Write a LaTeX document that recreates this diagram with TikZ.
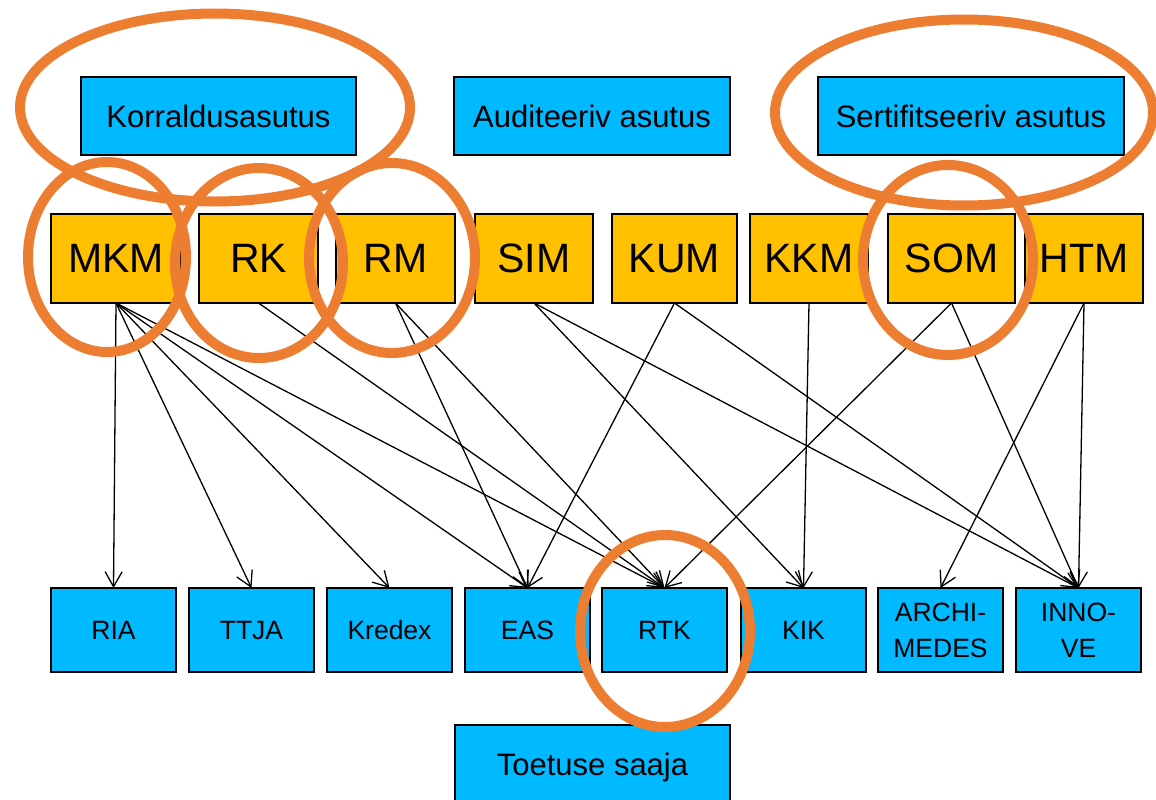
\documentclass[tikz,border=0pt]{standalone}
\usepackage{fontspec}
\setmainfont{Liberation Sans}
\usetikzlibrary{arrows.meta}
\definecolor{boxblue}{RGB}{0,185,255}
\definecolor{boxorange}{RGB}{255,192,0}
\definecolor{ringorange}{RGB}{237,125,49}
\tikzset{
  basebox/.style={draw=black, line width=1.3pt, inner sep=0pt, outer sep=0pt, align=center},
  topbox/.style={basebox, fill=boxblue, minimum height=78pt, font=\fontsize{31}{37}\selectfont},
  minbox/.style={basebox, fill=boxorange, minimum height=89pt, font=\fontsize{41}{48}\selectfont},
  agbox/.style={basebox, fill=boxblue, minimum width=125pt, minimum height=84pt, font=\fontsize{26.5}{36}\selectfont},
  flat/.style={text depth=0pt},
  link/.style={draw=black, line width=1.3pt, -{Straight Barb[length=15pt,width=17pt,line width=1.3pt]}},
  ring/.style={draw=ringorange, line width=10pt}
}
\begin{document}
\begin{tikzpicture}[x=1pt,y=-1pt]
\useasboundingbox (0,0) rectangle (1156,800);
\clip (0,0) rectangle (1156,800);

% top row
\node[topbox, minimum width=275pt] (korr) at (218.5,116) {Korraldusasutus};
\node[topbox, minimum width=276pt] (audit) at (592,116) {Auditeeriv asutus};
\node[topbox, minimum width=306pt] (sert) at (971,116) {Sertifitseeriv asutus};

% ministries
\node[minbox, minimum width=130pt] (mkm) at (116,258.5) {MKM};
\node[minbox, minimum width=119pt] (rk) at (258.5,258.5) {RK};
\node[minbox, minimum width=119pt] (rm) at (395.5,258.5) {RM};
\node[minbox, minimum width=118pt] (sim) at (534,258.5) {SIM};
\node[minbox, minimum width=125pt] (kum) at (674.5,258.5) {KUM};
\node[minbox, minimum width=118pt] (kkm) at (809,258.5) {KKM};
\node[minbox, minimum width=127pt] (som) at (951.5,258.5) {SOM};
\node[minbox, minimum width=118pt] (htm) at (1084,258.5) {HTM};

% agencies
\node[agbox, flat] (ria) at (113.5,630) {RIA};
\node[agbox, flat] (ttja) at (251.5,630) {TTJA};
\node[agbox, flat] (kredex) at (389.5,630) {Kredex};
\node[agbox, flat] (eas) at (527.5,630) {EAS};
\node[agbox, flat] (rtk) at (664.5,630) {RTK};
\node[agbox, flat] (kik) at (803.5,630) {KIK};
\node[agbox] (arch) at (940.5,630) {ARCHI-\\MEDES};
\node[agbox] (innove) at (1078.5,630) {INNO-\\VE};

% beneficiary
\node[topbox, minimum width=275pt, minimum height=84pt] (saaja) at (592.5,767) {Toetuse saaja};

% connectors
\draw[link] (mkm.south) -- (ria.north);
\draw[link] (mkm.south) -- (ttja.north);
\draw[link] (mkm.south) -- (kredex.north);
\draw[link] (mkm.south) -- (eas.north);
\draw[link] (mkm.south) -- (rtk.north);
\draw[link] (rk.south) -- (rtk.north);
\draw[link] (rm.south) -- (eas.north);
\draw[link] (rm.south) -- (rtk.north);
\draw[link] (sim.south) -- (kik.north);
\draw[link] (sim.south) -- (innove.north);
\draw[link] (kum.south) -- (eas.north);
\draw[link] (kum.south) -- (innove.north);
\draw[link] (kkm.south) -- (kik.north);
\draw[link] (som.south) -- (rtk.north);
\draw[link] (som.south) -- (innove.north);
\draw[link] (htm.south) -- (arch.north);
\draw[link] (htm.south) -- (innove.north);

% highlight rings
\draw[ring] (215,107.5) ellipse [x radius=195, y radius=94];
\draw[ring] (964,112.5) ellipse [x radius=189, y radius=93];
\draw[ring] (107,257) ellipse [x radius=79, y radius=95];
\draw[ring] (259,263) ellipse [x radius=84, y radius=95];
\draw[ring] (392,258) ellipse [x radius=83, y radius=95];
\draw[ring] (948,260) ellipse [x radius=85, y radius=95];
\draw[ring] (665,631) ellipse [x radius=85, y radius=96];
\end{tikzpicture}
\end{document}
